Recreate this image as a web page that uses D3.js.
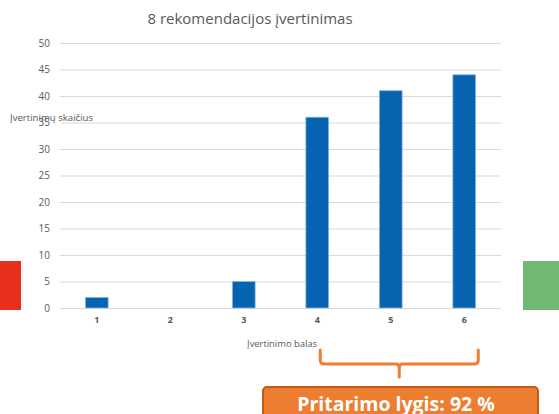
<!DOCTYPE html>
<html>
<head>
<meta charset="utf-8">
<script src="https://cdn.jsdelivr.net/npm/d3@7"></script>
<style>
  body { margin: 0; background: #fff; }
  svg { display: block; font-family: "Open Sans", "Noto Sans", sans-serif; }
</style>
</head>
<body>
<svg width="559" height="414"></svg>
<script>
// chart data
var categories = ["1", "2", "3", "4", "5", "6"];
var counts = [2, 0, 5, 36, 41, 44];
var yTicks = [0, 5, 10, 15, 20, 25, 30, 35, 40, 45, 50];
var titleText = "8 rekomendacijos įvertinimas";
var yTitle = "Įvertinimų skaičius";
var xTitle = "Įvertinimo balas";
var agreeLabel = "Pritarimo lygis: 92 %";

var svg = d3.select("svg");

var x = d3.scaleBand().domain(categories).range([60, 501]).paddingInner(0.69).paddingOuter(0.345);
var y = d3.scaleLinear().domain([0, 50]).range([308, 43]);

// side colour blocks
svg.append("rect").attr("x", 0).attr("y", 261).attr("width", 21).attr("height", 49).attr("fill", "#e8301c");
svg.append("rect").attr("x", 523).attr("y", 261).attr("width", 36).attr("height", 49).attr("fill", "#71b872");

// title
svg.append("text")
  .attr("x", 250).attr("y", 24)
  .attr("text-anchor", "middle")
  .attr("font-size", 15)
  .attr("fill", "#595959")
  .text(titleText);

// gridlines
svg.append("g").selectAll("line")
  .data(yTicks)
  .enter().append("line")
    .attr("x1", 60).attr("x2", 501)
    .attr("y1", function(d) { return y(d) + 0.5; })
    .attr("y2", function(d) { return y(d) + 0.5; })
    .attr("stroke", "#d9d9d9")
    .attr("stroke-width", 1);

// y axis labels
var yAxis = d3.axisLeft(y).tickValues(yTicks).tickSize(0).tickPadding(0);
var gy = svg.append("g").attr("transform", "translate(50,0)").call(yAxis);
gy.select(".domain").remove();
gy.selectAll("text").attr("font-size", 10).attr("fill", "#595959").attr("font-family", "Open Sans, sans-serif");

// bars
svg.append("g").selectAll("rect")
  .data(counts)
  .enter().append("rect")
    .attr("x", function(d, i) { return x(categories[i]); })
    .attr("y", function(d) { return y(d); })
    .attr("width", x.bandwidth())
    .attr("height", function(d) { return y(0) - y(d); })
    .attr("fill", function(d) { return d > 0 ? "#0563b0" : "none"; })
    .attr("stroke", function(d) { return d > 0 ? "#8fb9df" : "none"; })
    .attr("stroke-width", 0.8);

// x axis labels
var xAxis = d3.axisBottom(x).tickSize(0).tickPadding(0);
var gx = svg.append("g").attr("transform", "translate(0,317)").call(xAxis);
gx.select(".domain").remove();
gx.selectAll("text").attr("font-size", 9).attr("font-weight", "bold").attr("fill", "#595959").attr("font-family", "Open Sans, sans-serif");

// axis titles
svg.append("text")
  .attr("x", 10).attr("y", 121)
  .attr("font-size", 9.6)
  .attr("fill", "#595959")
  .text(yTitle);

svg.append("text")
  .attr("x", 282).attr("y", 347)
  .attr("text-anchor", "middle")
  .attr("font-size", 9.4)
  .attr("fill", "#595959")
  .text(xTitle);

// brace over categories 4..6
var bl = x("4") + x.bandwidth() / 2 + 3, br = x("6") + x.bandwidth() / 2 + 14;
var mid = (bl + br) / 2;
var bracePath = d3.path();
bracePath.moveTo(bl, 350);
bracePath.lineTo(bl, 360);
bracePath.quadraticCurveTo(bl, 364, bl + 4, 364);
bracePath.lineTo(mid - 3, 364);
bracePath.quadraticCurveTo(mid, 364, mid, 368);
bracePath.lineTo(mid, 377);
bracePath.moveTo(mid, 368);
bracePath.quadraticCurveTo(mid, 364, mid + 3, 364);
bracePath.lineTo(br - 4, 364);
bracePath.quadraticCurveTo(br, 364, br, 360);
bracePath.lineTo(br, 350);
svg.append("path")
  .attr("d", bracePath.toString())
  .attr("fill", "none")
  .attr("stroke", "#ed7d31")
  .attr("stroke-width", 3)
  .attr("stroke-linecap", "round");

// agreement box
svg.append("rect")
  .attr("x", 263).attr("y", 387)
  .attr("width", 275).attr("height", 40)
  .attr("rx", 4)
  .attr("fill", "#ed7d31")
  .attr("stroke", "#c55a11")
  .attr("stroke-width", 2);

svg.append("text")
  .attr("x", 396).attr("y", 411)
  .attr("text-anchor", "middle")
  .attr("font-size", 19.5)
  .attr("font-weight", "bold")
  .attr("fill", "#ffffff")
  .text(agreeLabel);
</script>
</body>
</html>
